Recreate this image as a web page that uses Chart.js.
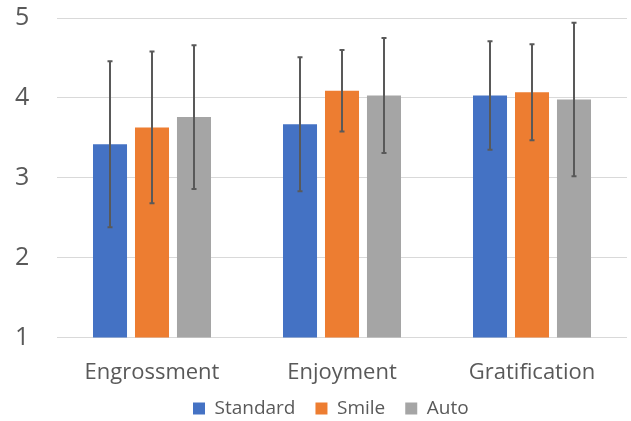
<!DOCTYPE html>
<html>
<head>
<meta charset="utf-8">
<script src="https://cdn.jsdelivr.net/npm/chart.js@4/dist/chart.umd.min.js"></script>
<style>
html,body{margin:0;padding:0;background:#fff;}
#wrap{width:631px;height:421px;position:relative;}
</style>
</head>
<body>
<div id="wrap"><canvas id="c"></canvas></div>
<script>
const categories = ["Engrossment", "Enjoyment", "Gratification"];
const seriesNames = ["Standard", "Smile", "Auto"];
const standardMeans = [3.42, 3.67, 4.03];
const smileMeans = [3.63, 4.09, 4.07];
const autoMeans = [3.76, 4.03, 3.98];
const standardErr = [1.04, 0.84, 0.68];
const smileErr = [0.95, 0.51, 0.60];
const autoErr = [0.90, 0.72, 0.96];
const yTicks = [1, 2, 3, 4, 5];
const colors = ["#4472C4", "#ED7D31", "#A5A5A5"];

const FONT = "'Open Sans', 'Noto Sans', sans-serif";
const LEGEND_START_X = 193;

const errorBarPlugin = {
  id: 'errorBars',
  afterDatasetsDraw(chart) {
    const ctx = chart.ctx;
    const yScale = chart.scales.y;
    ctx.save();
    ctx.strokeStyle = '#595959';
    ctx.lineWidth = 2;
    chart.data.datasets.forEach((ds, i) => {
      const meta = chart.getDatasetMeta(i);
      meta.data.forEach((bar, j) => {
        const m = ds.data[j];
        const e = ds.errors[j];
        const x = Math.round(bar.x);
        const yTop = yScale.getPixelForValue(m + e);
        const yBot = yScale.getPixelForValue(m - e);
        ctx.beginPath();
        ctx.moveTo(x, yTop); ctx.lineTo(x, yBot);
        ctx.moveTo(x - 2.5, yTop); ctx.lineTo(x + 2.5, yTop);
        ctx.moveTo(x - 2.5, yBot); ctx.lineTo(x + 2.5, yBot);
        ctx.stroke();
      });
    });
    ctx.restore();
  }
};

const legendShiftPlugin = {
  id: 'legendShift',
  afterLayout(chart) {
    const l = chart.legend;
    if (!l) return;
    const pad = l.options.labels.padding;
    const dx = LEGEND_START_X - (l.left + pad);
    l.left += dx; l.right += dx;
  }
};

const means = [standardMeans, smileMeans, autoMeans];
const errs = [standardErr, smileErr, autoErr];

new Chart(document.getElementById('c'), {
  type: 'bar',
  data: {
    labels: categories,
    datasets: seriesNames.map((n, i) => ({
      label: n,
      data: means[i],
      errors: errs[i],
      backgroundColor: colors[i],
      borderWidth: 0,
      categoryPercentage: 0.663,
      barPercentage: 0.81
    }))
  },
  options: {
    responsive: true,
    maintainAspectRatio: false,
    animation: false,
    devicePixelRatio: 1,
    layout: { padding: { top: 18, right: 4, left: 15, bottom: -7 } },
    plugins: {
      tooltip: { enabled: false },
      legend: {
        position: 'bottom',
        align: 'start',
        labels: {
          boxWidth: 12, boxHeight: 12, padding: 20,
          color: '#595959',
          font: { family: FONT, size: 19 }
        }
      }
    },
    scales: {
      x: {
        grid: { display: false, drawTicks: false },
        border: { display: false },
        afterFit(scale) { scale.height = 41.5; },
        afterUpdate(scale) { scale._computeLabelArea = () => undefined; },
        ticks: { color: '#595959', font: { family: FONT, size: 22 }, padding: 22 }
      },
      y: {
        min: 1, max: 5,
        afterBuildTicks(scale) { scale.ticks = yTicks.map(v => ({ value: v })); },
        afterFit(scale) { scale.width = 42; },
        grid: { color: '#D9D9D9', lineWidth: 1, drawTicks: false },
        border: { display: false },
        ticks: { color: '#595959', font: { family: FONT, size: 25 }, padding: 0, crossAlign: 'far' }
      }
    }
  },
  plugins: [errorBarPlugin, legendShiftPlugin]
});
</script>
</body>
</html>
